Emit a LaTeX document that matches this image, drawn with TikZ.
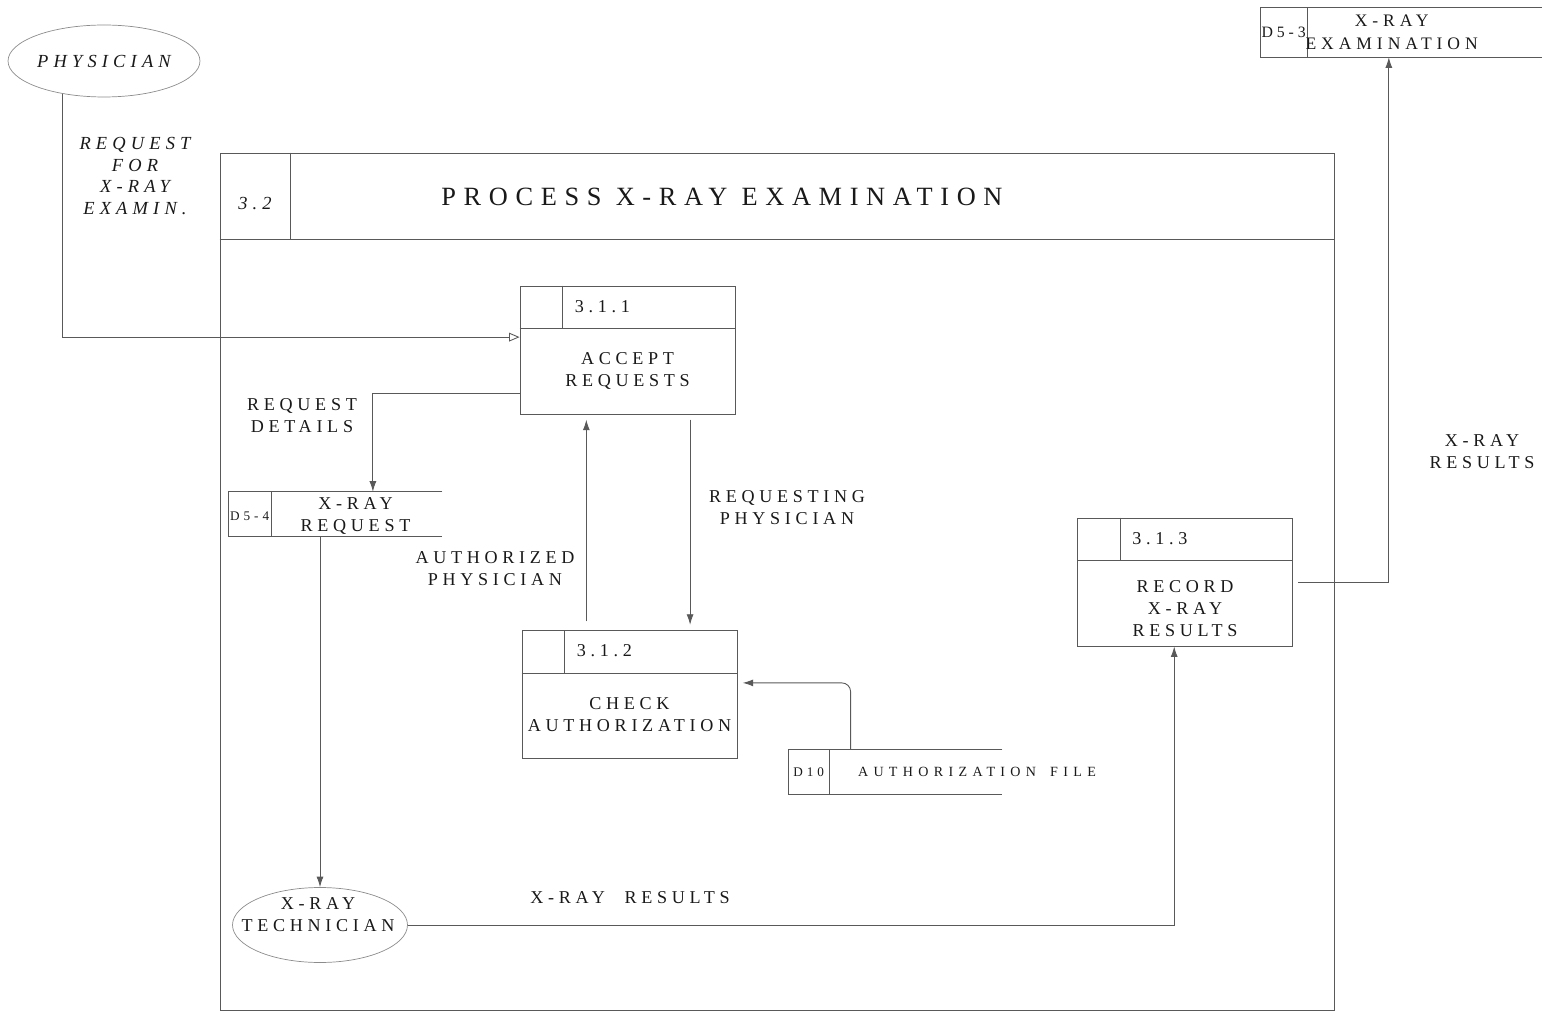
\documentclass[tikz,border=0pt]{standalone}
\usepackage{fontspec}
\setmainfont{Liberation Serif}
\usetikzlibrary{shapes, arrows.meta, positioning, calc}

\tikzset{
  line/.style={draw=black!65, line width=0.5pt},
  arr/.style={line, -{Latex[length=6pt,width=4pt]}},
  proc/.style={line, minimum width=4.3cm, minimum height=2.56cm, inner sep=0pt},
  store/.style={minimum width=4.26cm, minimum height=0.88cm, inner sep=0pt},
  ext/.style={ellipse, draw=black!45, line width=0.4pt, inner sep=0pt},
  lbl/.style={font=\fontsize{10.3}{12.5}\selectfont\addfontfeatures{LetterSpace=26}, align=center, inner sep=0pt, text=black!90},
  ilbl/.style={lbl, font=\fontsize{10.5}{12.3}\selectfont\itshape\addfontfeatures{LetterSpace=28}},
  small/.style={lbl, font=\fontsize{7.5}{9}\selectfont\addfontfeatures{LetterSpace=30}},
}

\begin{document}
\begin{tikzpicture}[x=0.02cm, y=-0.02cm]
\useasboundingbox (0,0) rectangle (1542,1013);

% external entities
\node[ext, minimum width=3.84cm, minimum height=1.44cm, ilbl] (phys) at (104,61) {PHYSICIAN};
\node[ext, minimum width=3.5cm, minimum height=1.5cm] (tech) at (320,925) {};
\node[lbl] (ttech) at (318,915) {X-RAY\\TECHNICIAN};

% process 3.2 frame
\node[proc, minimum width=22.3cm, minimum height=17.16cm] (p32) at (777.5,582) {};
\draw[line] ($(p32.north west)+(0,87)$) -- ($(p32.north east)+(0,87)$);
\draw[line] ($(p32.north west)+(71,0)$) -- ($(p32.north west)+(71,87)$);
\node[ilbl] (n32) at (255,204) {3.2};
\node[lbl, font=\fontsize{15}{18}\selectfont\addfontfeatures{LetterSpace=29}] (title) at (722,197) {PROCESS X-RAY EXAMINATION};

% processes
\node[proc] (p1) at (627.5,350) {};
\draw[line] ($(p1.north west)+(0,43)$) -- ($(p1.north east)+(0,43)$);
\draw[line] ($(p1.north west)+(43,0)$) -- ($(p1.north west)+(43,43)$);
\node[lbl, anchor=west] (id1) at ($(p1.north west)+(55,21)$) {3.1.1};
\node[lbl] (t1) at ($(p1.north)+(0,85)$) {ACCEPT\\REQUESTS};

\node[proc] (p2) at (629.5,694.5) {};
\draw[line] ($(p2.north west)+(0,43)$) -- ($(p2.north east)+(0,43)$);
\draw[line] ($(p2.north west)+(43,0)$) -- ($(p2.north west)+(43,43)$);
\node[lbl, anchor=west] (id2) at ($(p2.north west)+(55,21)$) {3.1.2};
\node[lbl] (t2) at ($(p2.north)+(0,85)$) {CHECK\\AUTHORIZATION};

\node[proc] (p3) at (1185,582) {};
\draw[line] ($(p3.north west)+(0,43)$) -- ($(p3.north east)+(0,43)$);
\draw[line] ($(p3.north west)+(43,0)$) -- ($(p3.north west)+(43,43)$);
\node[lbl, anchor=west] (id3) at ($(p3.north west)+(55,21)$) {3.1.3};
\node[lbl] (t3) at ($(p3.north)+(0,91)$) {RECORD\\X-RAY\\RESULTS};

% data stores
\node[store] (s4) at (335.5,514) {};
\draw[line] (s4.north east) -- (s4.north west) -- (s4.south west) -- (s4.south east);
\draw[line] ($(s4.north west)+(43,0)$) -- ($(s4.south west)+(43,0)$);
\node[small] (d4) at ($(s4.west)+(21,2)$) {D5-4};
\node[lbl] (t4) at ($(s4.center)+(20,2)$) {X-RAY\\REQUEST};

\node[store] (s10) at (895.5,772) {};
\draw[line] (s10.north east) -- (s10.north west) -- (s10.south west) -- (s10.south east);
\draw[line] ($(s10.north west)+(41,0)$) -- ($(s10.south west)+(41,0)$);
\node[small] (d10) at ($(s10.west)+(20,0)$) {D10};
\node[small, anchor=west, font=\fontsize{8}{9}\selectfont\addfontfeatures{LetterSpace=38}] (t10) at ($(s10.west)+(69,0)$) {AUTHORIZATION\hspace{3pt} FILE};

\node[store, minimum width=5.62cm, minimum height=0.98cm] (s3) at (1401.5,32.5) {};
\draw[line] (s3.north east) -- (s3.north west) -- (s3.south west) -- (s3.south east);
\draw[line] ($(s3.north west)+(47,0)$) -- ($(s3.south west)+(47,0)$);
\node[small, font=\fontsize{9}{11}\selectfont\addfontfeatures{LetterSpace=25}] (d3) at ($(s3.west)+(23,0)$) {D5-3};
\node[lbl, font=\fontsize{10}{13}\selectfont\addfontfeatures{LetterSpace=28}] (t5) at ($(s3.west)+(131,0)$) {X-RAY\\EXAMINATION};

% flows
\draw[line, -{Triangle[open, length=6pt, width=5pt]}] (phys.-142) |- ($(p1.north west)!0.4!(p1.south west)$);
\node[ilbl] (f1) at (135,176) {REQUEST\\FOR\\X-RAY\\EXAMIN.};

\draw[arr] ($(p1.north west)!0.84!(p1.south west)$) -| ($(s4.north west)!0.675!(s4.north east)$);
\node[lbl] (f2) at (302,416) {REQUEST\\DETAILS};

\draw[arr, shorten <=3pt, shorten >=3pt] ($(p1.south west)!0.79!(p1.south east)$) coordinate (rq) -- (rq |- p2.north);
\node[lbl] (f3) at (787,508) {REQUESTING\\PHYSICIAN};

\draw[arr, shorten <=5pt, shorten >=3pt] ($(p2.north west)!0.3!(p2.north east)$) coordinate (au) -- (au |- p1.south);
\node[lbl] (f4) at (495,569) {AUTHORIZED\\PHYSICIAN};

\draw[arr, rounded corners=5pt, shorten >=3pt] ($(s10.north west)!0.29!(s10.north east)$) |- ($(p2.north east)!0.41!(p2.south east)$);

\draw[arr] (s4.south -| tech.north) -- (tech.north);

\draw[arr] (tech.east) -| ($(p3.south west)!0.45!(p3.south east)$);
\node[lbl] (f5) at (630,898) {X-RAY\hspace{6pt} RESULTS};

\draw[arr, shorten <=3pt] (p3.east) -| ($(s3.south west)!0.455!(s3.south east)$);
\node[lbl] (f6) at (1482,452) {X-RAY\\RESULTS};
\end{tikzpicture}
\end{document}
